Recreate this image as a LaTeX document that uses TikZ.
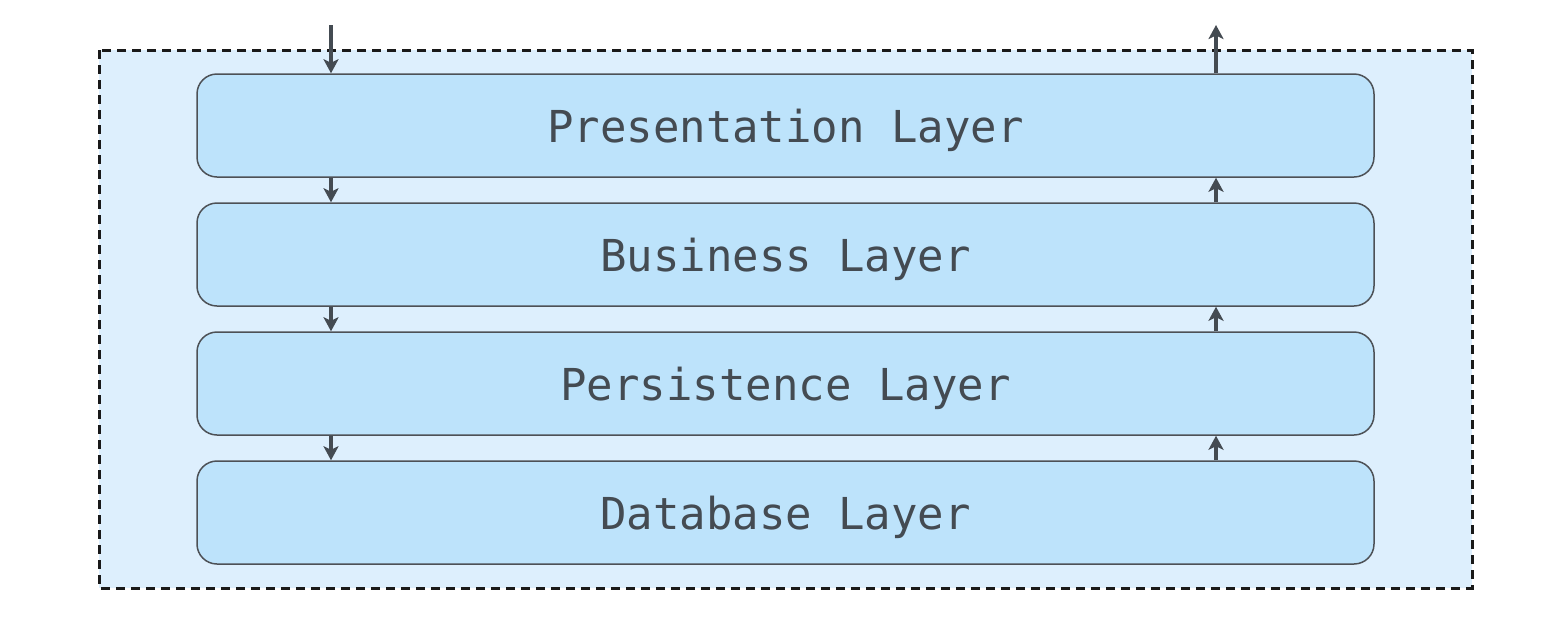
\documentclass[tikz,border=0pt]{standalone}
\usepackage{fontspec}
\setmonofont{DejaVu Sans Mono}
\usetikzlibrary{positioning,arrows.meta}
\definecolor{outerfill}{HTML}{DDEFFD}
\definecolor{layerfill}{HTML}{BDE3FB}
\definecolor{layerline}{HTML}{4D5156}
\definecolor{inkgray}{HTML}{444B52}
\tikzset{
  layer/.style={draw=layerline, line width=1.5pt, fill=layerfill, rounded corners=20pt,
    minimum width=1177pt, minimum height=103pt, inner sep=0pt,
    text=inkgray, font=\ttfamily\fontsize{44}{52}\selectfont,
    text height=40pt, text depth=7pt},
  flow/.style={draw=inkgray, line width=3.5pt, -{Stealth[length=14pt,width=15pt,inset=3.5pt]}}
}
\begin{document}
\begin{tikzpicture}[x=1pt,y=-1pt]
    \useasboundingbox (0,0) rectangle (1566,638);

    % draw the outer container
    \draw[black!90, line width=3pt, dash pattern=on 9pt off 6pt, fill=outerfill] (99,50) rectangle (1472,588);

    % draw the layers
    \node[layer] (pres) at (785.5,125.5) {Presentation Layer};
    \node[layer, below=24.5pt of pres] (bus) {Business Layer};
    \node[layer, below=24.5pt of bus] (pers) {Persistence Layer};
    \node[layer, below=24.5pt of pers] (db) {Database Layer};

    % request and response columns
    \coordinate (down) at (331,25);
    \coordinate (up) at (1216,25);

    %requests
    \draw[flow] (down) -- (pres.north -| down);
    \draw[flow] (pres.south -| down) -- (bus.north -| down);
    \draw[flow] (bus.south -| down) -- (pers.north -| down);
    \draw[flow] (pers.south -| down) -- (db.north -| down);

    %responses
    \draw[flow] (db.north -| up) -- (pers.south -| up);
    \draw[flow] (pers.north -| up) -- (bus.south -| up);
    \draw[flow] (bus.north -| up) -- (pres.south -| up);
    \draw[flow] (pres.north -| up) -- (up);
\end{tikzpicture}
\end{document}
